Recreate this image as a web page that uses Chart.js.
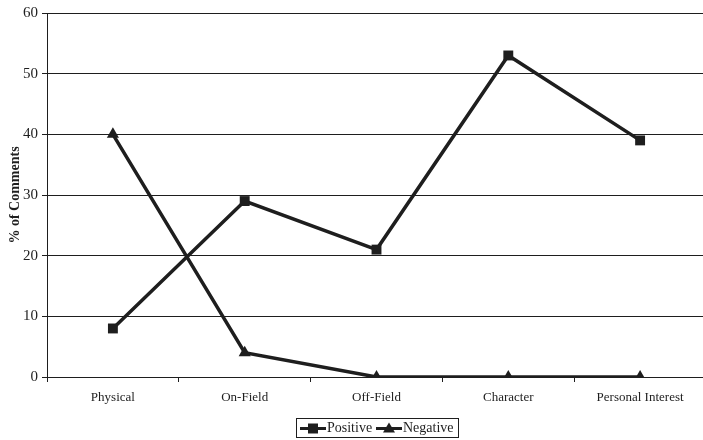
<!DOCTYPE html>
<html>
<head>
<meta charset="utf-8">
<script src="https://cdn.jsdelivr.net/npm/chart.js@4"></script>
<style>
  html, body { margin: 0; padding: 0; background: #fff; overflow: hidden; }
  #wrap { width: 703px; height: 440px; overflow: hidden; }
</style>
</head>
<body>
<div id="wrap"><canvas id="commentsChart" width="713" height="440"></canvas></div>
<script>
// chart values
const categories = ['Physical', 'On-Field', 'Off-Field', 'Character', 'Personal Interest'];
const positiveValues = [8, 29, 21, 53, 39];
const negativeValues = [40, 4, 0, 0, 0];
const yTicks = [0, 10, 20, 30, 40, 50, 60];

const ink = '#1e1e1e';
const serif = "'Liberation Serif', 'Times New Roman', serif";

// legend drawn under the axis, line + marker like the original
const boxLegend = {
    id: 'boxLegend',
    afterDraw(chart) {
        const ctx = chart.ctx;
        const cx = 377, top = 418, h = 19, w = 162;
        const left = cx - w / 2;
        ctx.save();
        ctx.strokeStyle = ink;
        ctx.lineWidth = 1;
        ctx.strokeRect(left + 0.5, top + 0.5, w, h);
        ctx.font = '14px ' + serif;
        ctx.fillStyle = ink;
        ctx.textBaseline = 'middle';
        const midY = top + h / 2 + 1;
        chart.data.datasets.forEach((ds, i) => {
            const x0 = left + 4 + i * 76;
            ctx.strokeStyle = ink;
            ctx.lineWidth = 3;
            ctx.beginPath();
            ctx.moveTo(x0, midY);
            ctx.lineTo(x0 + 26, midY);
            ctx.stroke();
            ctx.beginPath();
            if (ds.pointStyle === 'rect') {
                ctx.rect(x0 + 8, midY - 5, 10, 10);
            } else {
                ctx.moveTo(x0 + 13, midY - 6);
                ctx.lineTo(x0 + 19, midY + 4);
                ctx.lineTo(x0 + 7, midY + 4);
                ctx.closePath();
            }
            ctx.fill();
            ctx.fillText(ds.label, x0 + 27, midY);
        });
        ctx.restore();
    }
};

const ctx = document.getElementById('commentsChart').getContext('2d');
const chart = new Chart(ctx, {
    type: 'line',
    data: {
        labels: categories,
        datasets: [{
            label: 'Positive',
            data: positiveValues,
            borderColor: ink,
            backgroundColor: ink,
            borderWidth: 3.5,
            pointStyle: 'rect',
            pointRadius: 7,
            pointBorderWidth: 0,
            tension: 0
        }, {
            label: 'Negative',
            data: negativeValues,
            borderColor: ink,
            backgroundColor: ink,
            borderWidth: 3.5,
            pointStyle: 'triangle',
            pointRadius: 7,
            pointBorderWidth: 0,
            tension: 0
        }]
    },
    options: {
        responsive: false,
        animation: false,
        layout: { padding: { top: 11, right: 0, bottom: 0, left: 7 } },
        plugins: {
            legend: { display: false },
            tooltip: { enabled: false }
        },
        scales: {
            x: {
                offset: true,
                grid: {
                    offset: true,
                    drawOnChartArea: false,
                    drawTicks: true,
                    tickLength: 5,
                    color: ink
                },
                border: { color: ink, width: 1 },
                ticks: {
                    color: ink,
                    padding: 8,
                    maxRotation: 0,
                    font: { family: serif, size: 13 }
                },
                afterFit(scale) { scale.height = 63; }
            },
            y: {
                min: 0,
                max: 60,
                afterBuildTicks(scale) {
                    scale.ticks = yTicks.map(v => ({ value: v }));
                },
                grid: {
                    color: ink,
                    lineWidth: 1,
                    tickLength: 5
                },
                border: { color: ink, width: 1 },
                ticks: {
                    color: ink,
                    padding: 4,
                    font: { family: serif, size: 15 }
                },
                title: {
                    display: true,
                    text: '% of Comments',
                    color: ink,
                    padding: 0,
                    font: { family: serif, size: 14, weight: 'bold' }
                },
                afterFit(scale) { scale.width = 40; }
            }
        }
    },
    plugins: [boxLegend]
});
</script>
</body>
</html>
